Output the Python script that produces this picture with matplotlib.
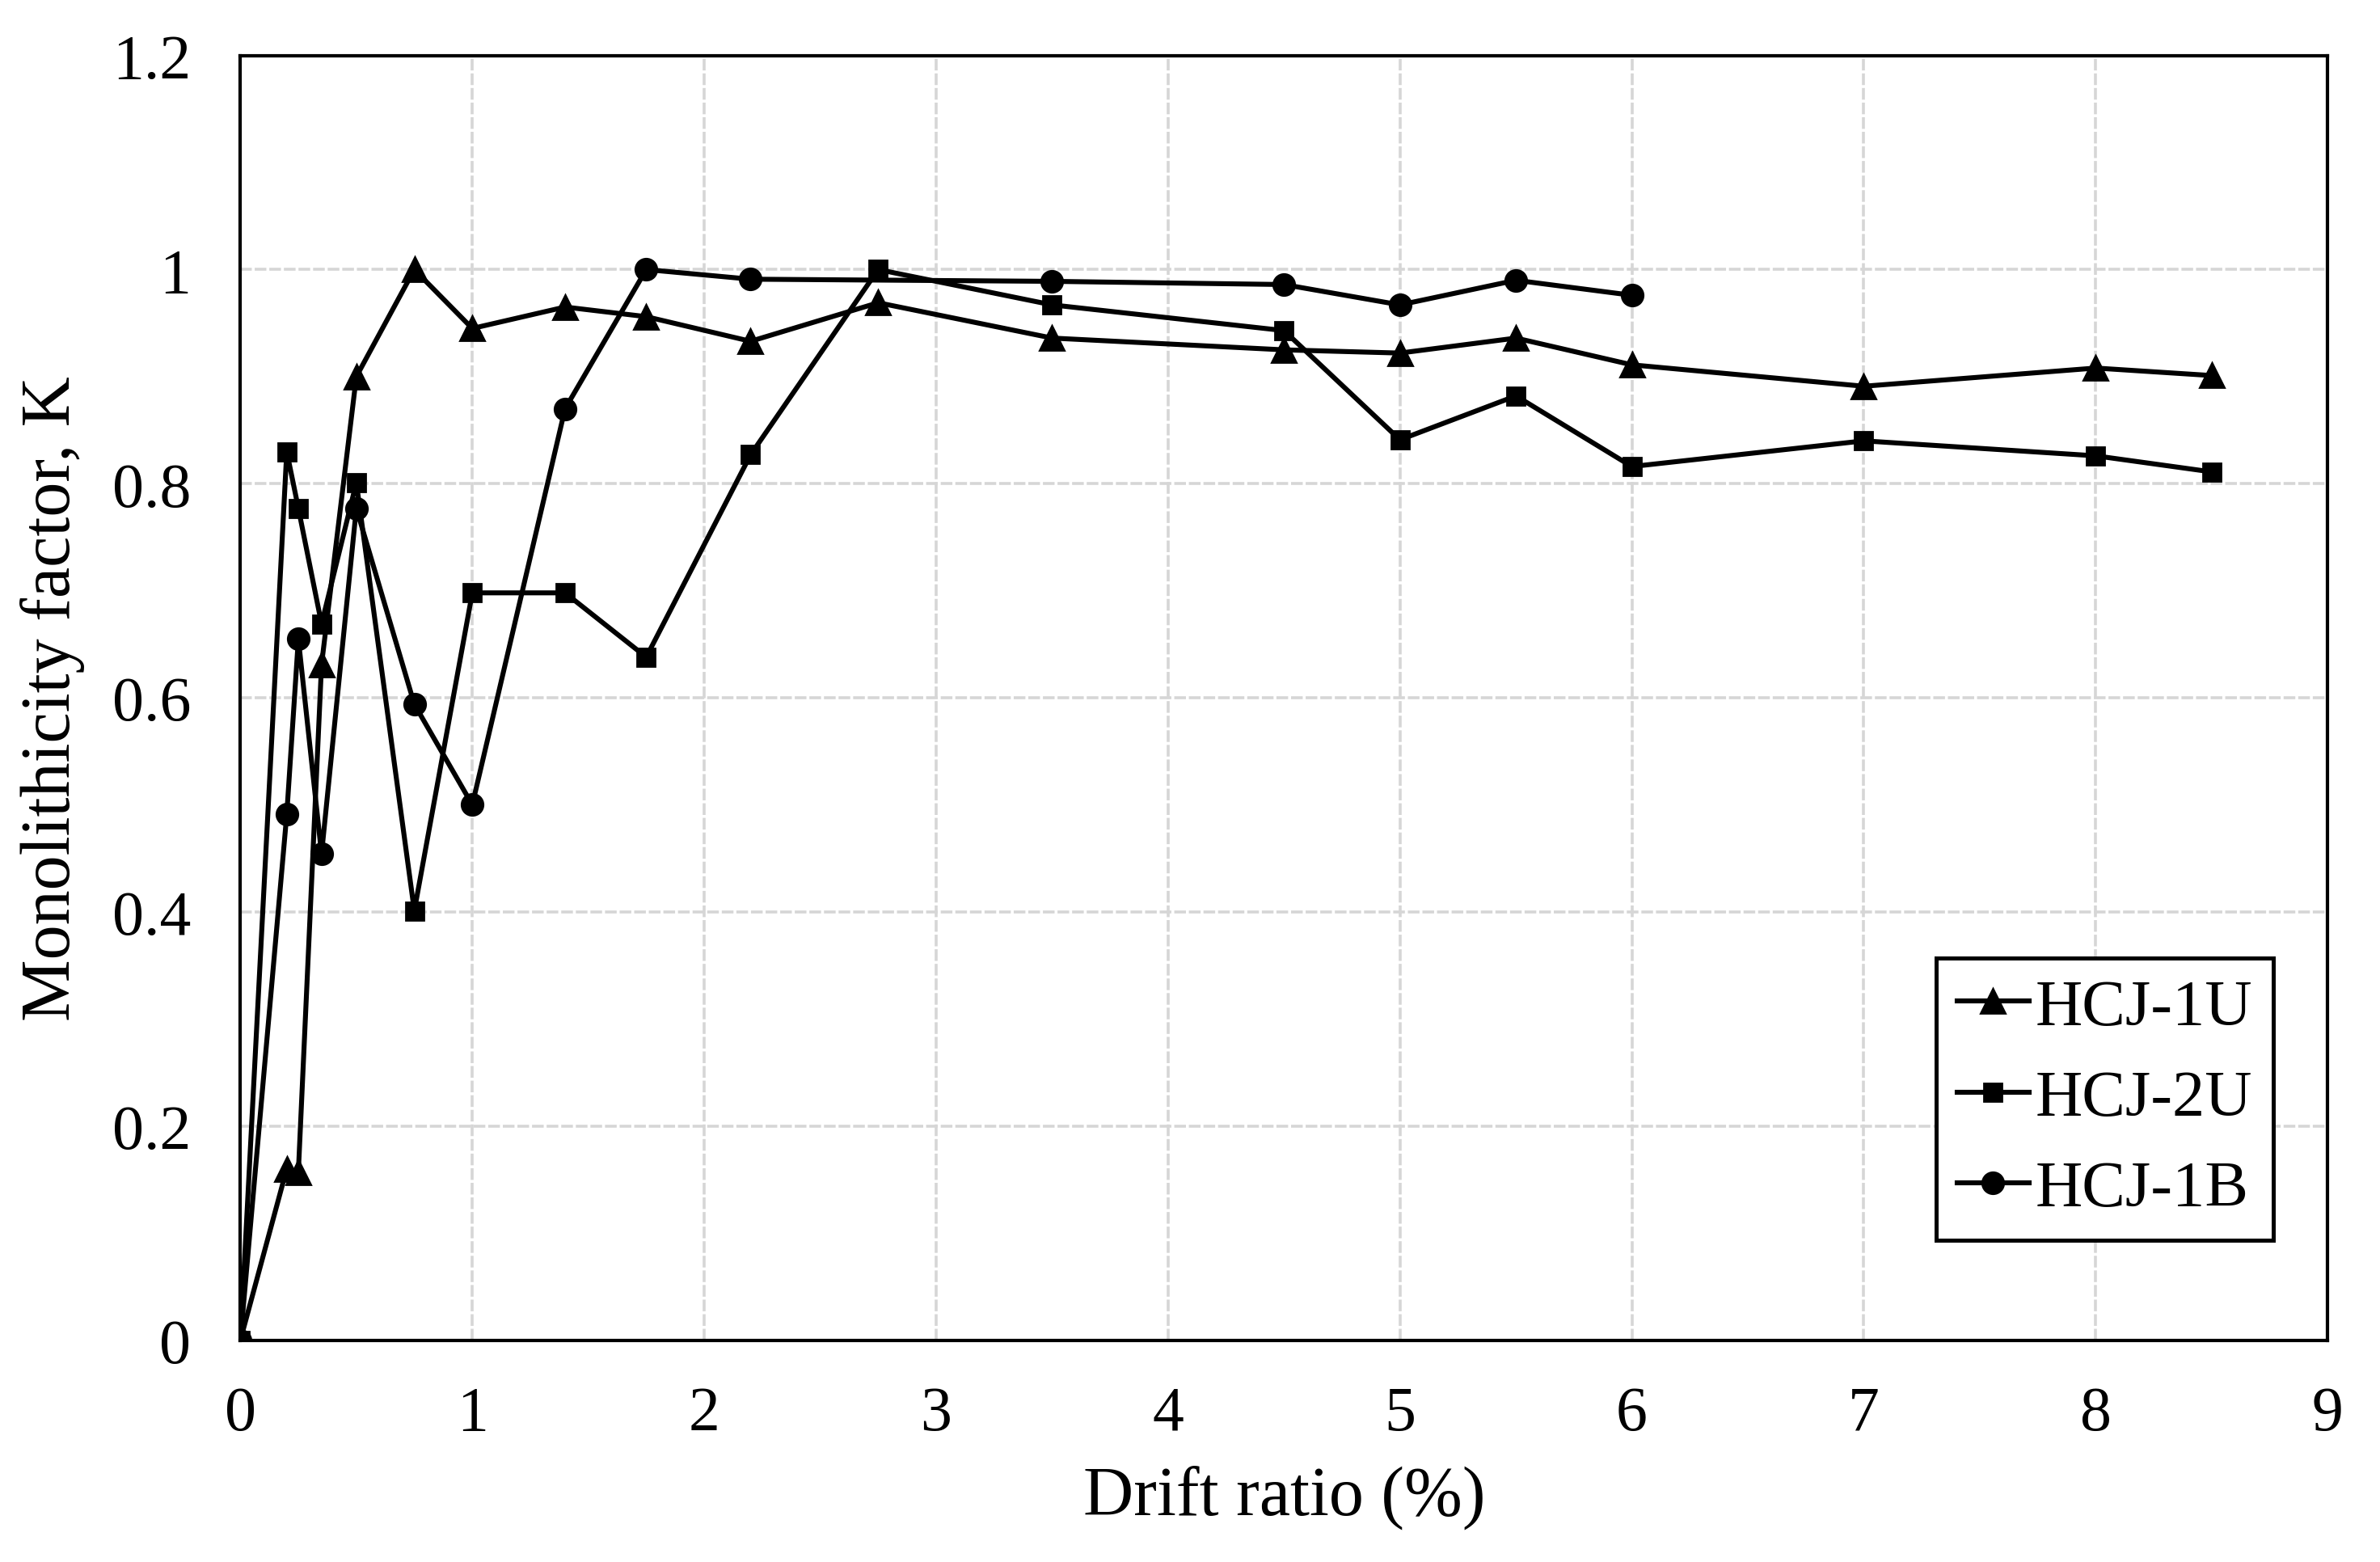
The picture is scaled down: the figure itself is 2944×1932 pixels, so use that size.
import numpy as np
import matplotlib.pyplot as plt
from matplotlib.ticker import FuncFormatter

# Datos
deriva_1u = [0, 0.2, 0.25, 0.35, 0.5, 0.75, 1.0, 1.4, 1.75, 2.2, 2.75, 3.5, 4.5, 5.0, 5.5, 6.0, 7.0, 8.0, 8.5]
k_1u = [0, 0.160, 0.157, 0.631, 0.90, 1.0, 0.945, 0.965, 0.956, 0.933, 0.969, 0.936, 0.925, 0.922, 0.936, 0.911, 0.891, 0.908, 0.901]

deriva_2u = [0, 0.2, 0.25, 0.35, 0.5, 0.75, 1.0, 1.4, 1.75, 2.2, 2.75, 3.5, 4.5, 5.0, 5.5, 6.0, 7.0, 8.0, 8.5]
k_2u = [0, 0.830, 0.777, 0.669, 0.801, 0.401, 0.698, 0.698, 0.638, 0.827, 1.0, 0.967, 0.943, 0.841, 0.882, 0.816, 0.840, 0.826, 0.811]

deriva_1b = [0, 0.2, 0.25, 0.35, 0.5, 0.75, 1.0, 1.4, 1.75, 2.2, 3.5, 4.5, 5.0, 5.5, 6.0]
k_1b = [0, 0.491, 0.655, 0.454, 0.777, 0.594, 0.50, 0.870, 1.0, 0.991, 0.989, 0.986, 0.967, 0.990, 0.976]

etiquetas = ['HCJ-1U', 'HCJ-2U', 'HCJ-1B']

plt.rcParams['font.family'] = ['Liberation Serif', 'DejaVu Serif']

fig = plt.figure(figsize=(14.72, 9.665), dpi=200)
ax = fig.add_axes([0.101, 0.142, 0.877, 0.822])

ax.plot(deriva_1u, k_1u, color='black', lw=2.2, marker='^', markersize=11, label=etiquetas[0])
ax.plot(deriva_2u, k_2u, color='black', lw=2.2, marker='s', markersize=8, label=etiquetas[1])
ax.plot(deriva_1b, k_1b, color='black', lw=2.2, marker='o', markersize=9.5, label=etiquetas[2])

ax.set_xlim(0, 9)
ax.set_ylim(0, 1.2)
ax.set_xticks(np.arange(0, 10, 1))
ax.set_yticks(np.arange(0, 1.21, 0.2))
ax.yaxis.set_major_formatter(FuncFormatter(lambda v, p: '%g' % round(v, 1)))

ax.grid(True, color='#d6d6d6', linestyle=(0, (4, 1)), lw=1.3)
ax.set_axisbelow(True)
for lado in ax.spines.values():
    lado.set_color('black')
    lado.set_linewidth(1.5)

ax.tick_params(length=0, labelsize=28)
ax.tick_params(axis='x', pad=20)
ax.tick_params(axis='y', pad=22)
ax.set_xlabel('Drift ratio (%)', fontsize=31, labelpad=10)
ax.set_ylabel('Monolithicity factor, K', fontsize=31, labelpad=12)

leyenda = ax.legend(loc='lower right', bbox_to_anchor=(0.974, 0.078), borderaxespad=0,
                    fontsize=29, fancybox=False, framealpha=1, edgecolor='black',
                    handlelength=1.1, handletextpad=0.1, labelspacing=0.48,
                    borderpad=0.32)
leyenda.get_frame().set_linewidth(1.8)

fig.savefig('out.png', dpi=200)
